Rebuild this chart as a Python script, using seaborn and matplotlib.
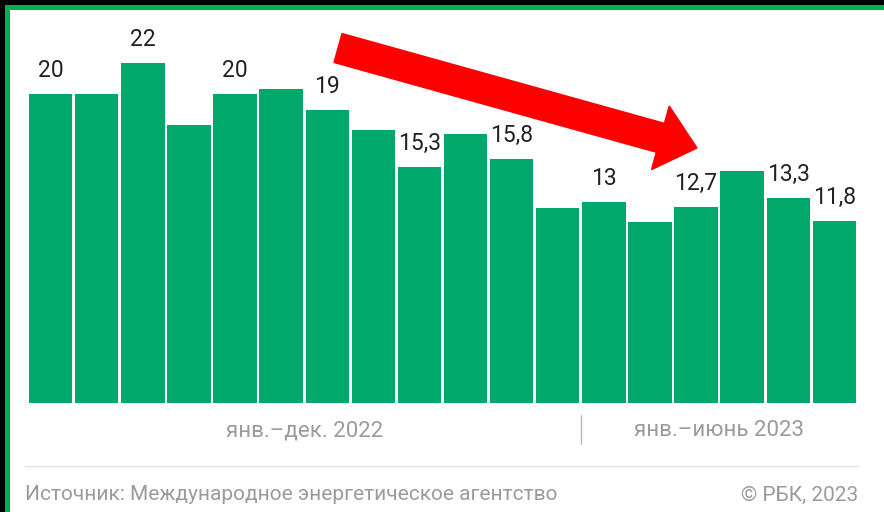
import numpy as np
import pandas as pd
import seaborn as sns
import matplotlib.pyplot as plt
import matplotlib.patches as mpatches
from matplotlib.transforms import IdentityTransform

# monthly values, Jan 2022 .. Jun 2023
months = [f"m{i}" for i in range(1, 19)]
values = [20, 20, 22, 18.0, 20, 20.3, 19, 17.7, 15.3, 17.4, 15.8, 12.6,
          13, 11.7, 12.7, 15.0, 13.3, 11.8]
labels = ["20", "", "22", "", "20", "", "19", "", "15,3", "", "15,8", "",
          "13", "", "12,7", "", "13,3", "11,8"]
groups = ["янв.–дек. 2022", "янв.–июнь 2023"]
group_sizes = [12, 6]
source = "Источник: Международное энергетическое агентство"
copyright_txt = "© РБК, 2023"

GREEN = "#00A86B"
GRAY = "#9B9B9B"

sns.set_theme(style="white")
plt.rcParams["font.family"] = ["Roboto", "DejaVu Sans"]

W, H = 884, 512
fig = plt.figure(figsize=(W / 100, H / 100), dpi=100)
fig.patch.set_facecolor("white")

# axes placed in pixel terms
left, right, base, top = 29, 856, 109, 492
ax = fig.add_axes([left / W, base / H, (right - left) / W, (top - base) / H])

df = pd.DataFrame({"month": months, "value": values})
sns.barplot(data=df, x="month", y="value", order=months, color=GREEN,
            saturation=1, width=0.94, linewidth=0, ax=ax)
ax.set_xlim(-0.47, len(months) - 0.53)
ax.set_ylim(0, 24.8)
ax.axis("off")

for i, (v, lab) in enumerate(zip(values, labels)):
    if lab:
        ax.annotate(lab, (i, v), xytext=(0, 8.5), textcoords="offset points",
                    ha="center", va="bottom", fontsize=16.5, color="#222222")

# group labels and separator
start = 0
for g, n in zip(groups, group_sizes):
    center = start + (n - 1) / 2
    ax.annotate(g, (center, 0), xytext=(0, -20), textcoords="offset points",
                ha="center", va="center", fontsize=16, color=GRAY,
                annotation_clip=False)
    start += n
sep_x = group_sizes[0] - 0.5
ax.plot([sep_x, sep_x], [-12 / 15.45, -41 / 15.45], color="#BBBBBB",
        lw=1, clip_on=False)

# footer
fig.add_artist(plt.Line2D([25 / W, 858 / W], [(H - 466) / H] * 2,
                          color="#E3E3E3", lw=1))
fig.text(25 / W, (H - 495) / H, source, ha="left", va="center",
         fontsize=15, color=GRAY)
fig.text(858 / W, (H - 495) / H, copyright_txt, ha="right", va="center",
         fontsize=15, color=GRAY)

# red arrow
tx, ty = 338, H - 48
hx, hy = 697, H - 148
arrow = mpatches.FancyArrow(tx, ty, hx - tx, hy - ty, width=30,
                            head_width=66, head_length=38,
                            length_includes_head=True, color="#FF0000",
                            transform=IdentityTransform())
fig.add_artist(arrow)

# frame: black outer strip and green line on top/left
for rect, col in [((0, H - 5, W, 5), "black"), ((0, 0, 5, H), "black"),
                  ((5, H - 10, W - 5, 5), "#00B050"), ((5, 0, 5, H - 5), "#00B050")]:
    x, y, w, h = rect
    fig.add_artist(mpatches.Rectangle((x, y), w, h, color=col, lw=0,
                                      transform=IdentityTransform()))

fig.savefig("out.png", dpi=100)
